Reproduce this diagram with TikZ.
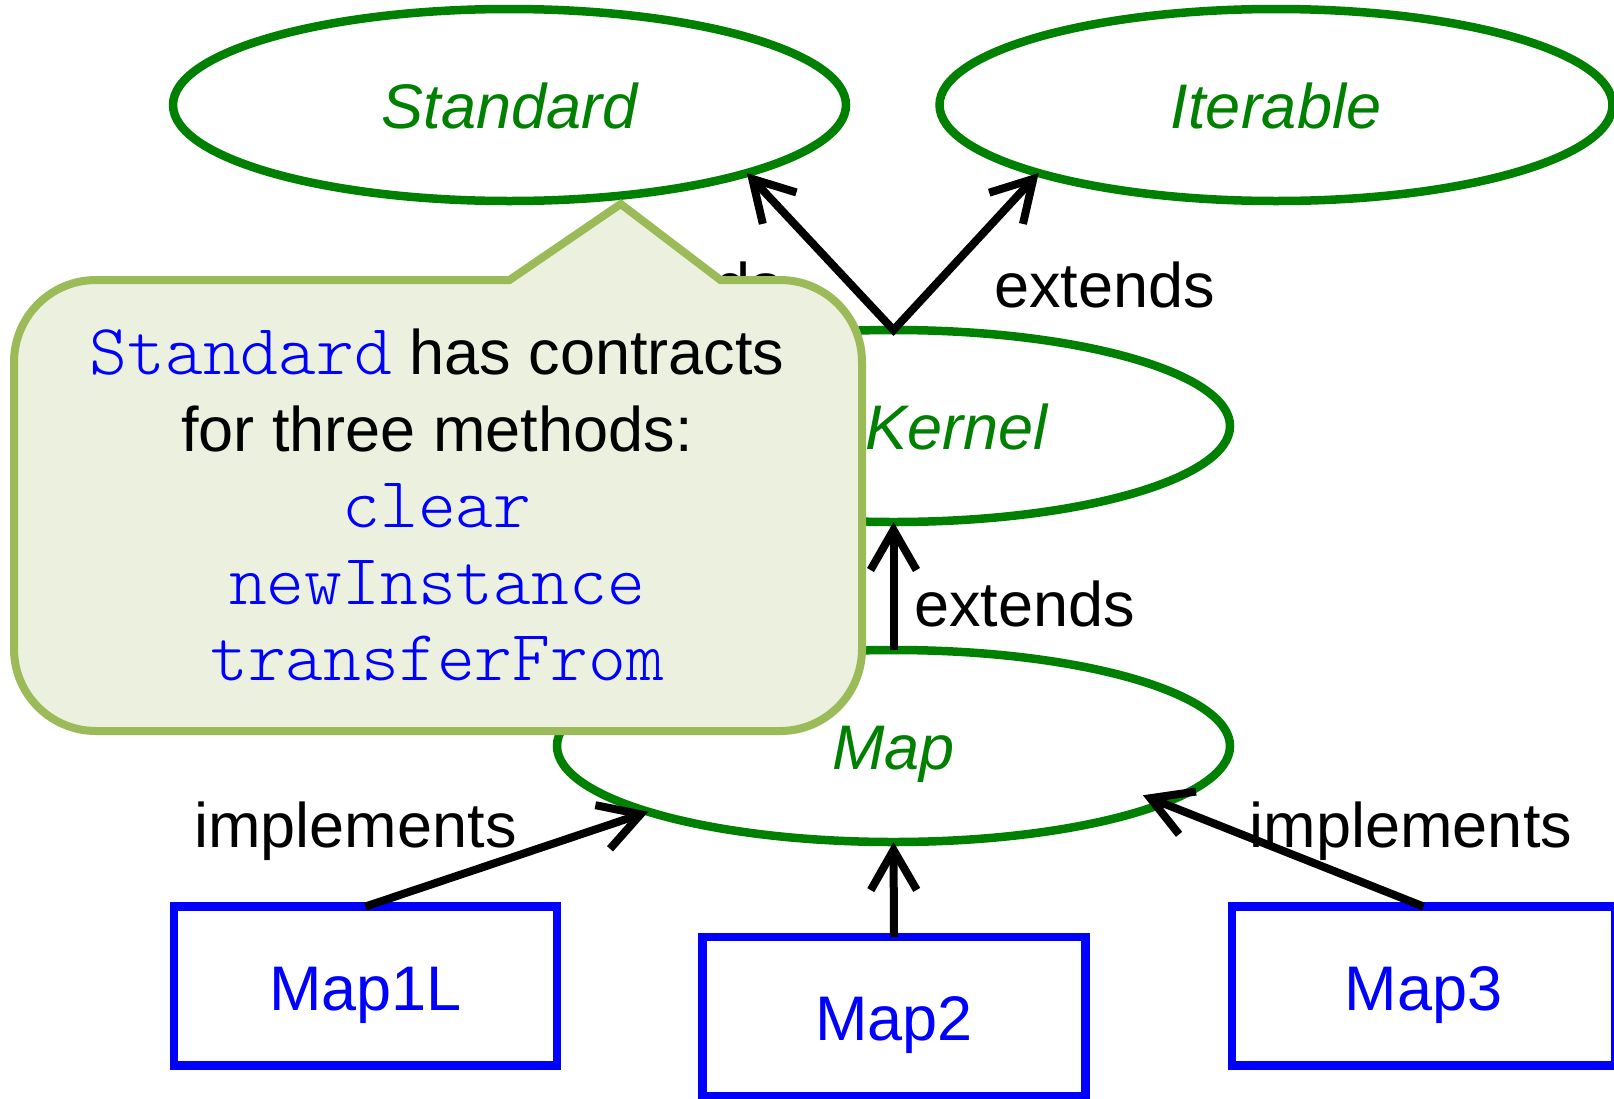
\documentclass[tikz,border=0pt]{standalone}
\usepackage{fontspec}
\setmainfont{Liberation Sans}
\newfontfamily\codefont{lmmonolt10-regular.otf}
\usetikzlibrary{arrows.meta,shapes.geometric,shadows}

\definecolor{ifgreen}{RGB}{0,128,0}
\definecolor{implblue}{RGB}{0,0,255}
\definecolor{notefill}{RGB}{235,241,222}
\definecolor{noteedge}{RGB}{155,187,89}

\newcommand\diagfont{\fontsize{63}{76.5}\selectfont}
\newcommand\codeword[1]{{\codefont\fontsize{72}{76.5}\selectfont\color{implblue}#1}}

\begin{document}
\begin{tikzpicture}[x=1pt,y=-1pt,
  iface/.style={ellipse, draw=ifgreen, line width=8.5pt,
    minimum width=673pt, minimum height=192pt, inner sep=0pt, outer sep=0pt,
    text=ifgreen, font=\diagfont\itshape, text height=46pt, text depth=0pt},
  ifname/.style={text=ifgreen, font=\diagfont\itshape, inner sep=0pt,
    text height=46pt, text depth=0pt},
  cls/.style={rectangle, draw=implblue, line width=8.5pt,
    minimum width=383pt, minimum height=159pt, inner sep=0pt, outer sep=0pt,
    text=implblue, font=\diagfont, text height=48pt, text depth=0pt},
  barb/.tip={Straight Barb[length=40pt,width=46pt]},
  rel/.style={line width=8pt, -barb},
  rellabel/.style={anchor=base, font=\diagfont, inner sep=0pt}
]
\path[use as bounding box] (0,0) rectangle (1614,1098);

% interfaces
\node[iface] (Standard) at (509.5,105) {Standard};
\node[iface] (Iterable) at (1276,105) {Iterable};
\node[iface] (Kernel) at (893.5,426) {};
\node[ifname] (KernelName) at ([xshift=63pt]Kernel.center) {Kernel};
\node[iface] (Map) at (893.5,746) {Map};

% implementing classes
\node[cls] (Map1L) at (365.5,986) {Map1L};
\node[cls] (Map2) at (894,1016.5) {Map2};
\node[cls] (Map3) at (1423.5,986) {Map3};

% extends / implements relations
\draw[line width=8pt, barb-barb] (Standard.-16.5) -- (Kernel.north) -- (Iterable.196.5);
\draw[rel] (Map.north) -- (Kernel.south);
\draw[rel] (Map1L.north) -- (Map.195.5);
\draw[rel] (Map2.north) -- (Map.south);
\draw[rel, shorten >=-22pt] (Map3.north) -- (Map.-12);

\node[rellabel] (extStd) at (672,307) {extends};
\node[rellabel] (extIter) at (1104.5,307) {extends};
\node[rellabel] (extKernel) at (1024.5,626) {extends};
\node[rellabel] (implL) at (355.5,847) {implements};
\node[rellabel] (implR) at (1411,847) {implements};

% callout about Standard
\path[fill=notefill, draw=noteedge, line width=8pt,
      drop shadow={opacity=0.15, shadow xshift=2pt, shadow yshift=-4pt}]
  (720.5,280) [rounded corners=82pt] -- (862,280) -- (862,731) -- (14,731)
  -- (14,280) [sharp corners] -- (509.5,280) -- (620.7,204) -- cycle;
\node[align=center, font=\diagfont, inner sep=0pt] (note) at (437,505)
  {\codeword{Standard} has contracts\\
   for three methods:\\
   \codeword{clear}\\
   \codeword{newInstance}\\
   \codeword{transferFrom}};
\end{tikzpicture}
\end{document}
